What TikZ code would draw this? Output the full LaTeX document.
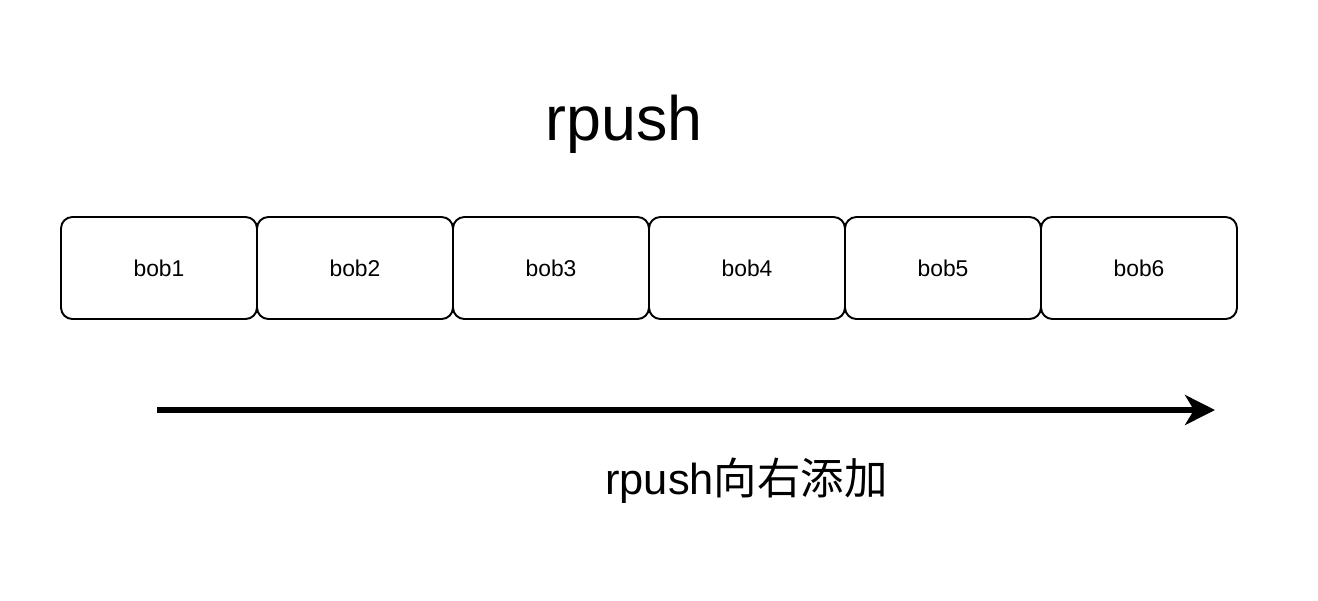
\documentclass[tikz,border=0pt]{standalone}
\usepackage{fontspec}
\setmainfont{Liberation Sans}
\newfontfamily\cjk{Noto Sans CJK SC}
\usepackage{tikz}
\usetikzlibrary{arrows.meta}

\begin{document}
\begin{tikzpicture}
    \tikzset{bx/.style={
      rectangle,
      draw,
      line width=1.1pt,
      rounded corners=6.5pt,
      minimum width=3.92cm,
      minimum height=2.04cm,
      font=\fontsize{13}{15}\selectfont,
      align=center}}
    \useasboundingbox (0, 0) rectangle (26.36, -12);
    \node at (12.48, -2.48) (t) {\fontsize{35.7}{40}\selectfont rpush};
    \node[bx] at (3.18, -5.36) (1) {bob1};
    \node[bx] at (7.10, -5.36) (2) {bob2};
    \node[bx] at (11.02, -5.36) (3) {bob3};
    \node[bx] at (14.94, -5.36) (4) {bob4};
    \node[bx] at (18.86, -5.36) (5) {bob5};
    \node[bx] at (22.78, -5.36) (6) {bob6};

    \coordinate (s) at (3.14, -8.2);
    \coordinate (e) at (24.3, -8.2);
    \draw[-{Stealth[length=17pt,width=17pt,inset=5pt]},line width=3pt] (s) -- (e);
    \node at (14.93, -9.62) (l) {\fontsize{24.7}{28}\selectfont rpush{\cjk 向右添加}};
  \end{tikzpicture}
\end{document}
